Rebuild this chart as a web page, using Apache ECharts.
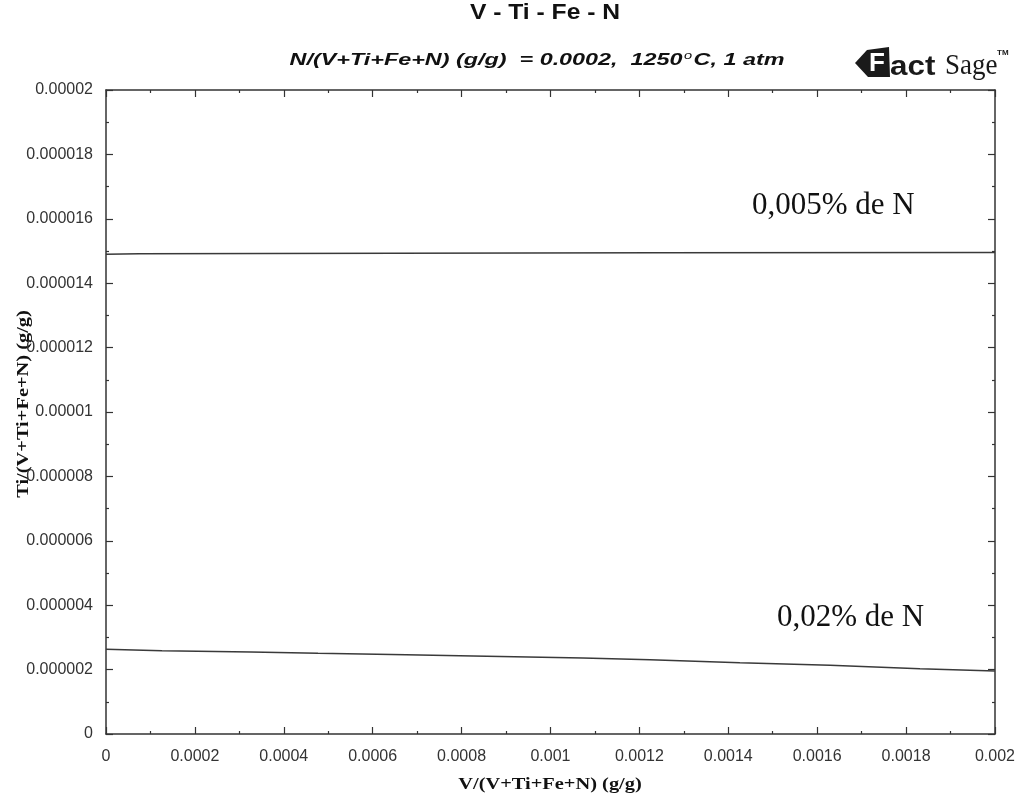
<!DOCTYPE html>
<html>
<head>
<meta charset="utf-8">
<script src="https://cdn.jsdelivr.net/npm/echarts@6/dist/echarts.min.js"></script>
<style>html,body{margin:0;padding:0;background:#fff}#c{width:1018px;height:802px}</style>
</head>
<body>
<div id="c"></div>
<script>
// Data
var xTicks = [0, 0.0002, 0.0004, 0.0006, 0.0008, 0.001, 0.0012, 0.0014, 0.0016, 0.0018, 0.002];
var yTicks = [0, 0.000002, 0.000004, 0.000006, 0.000008, 0.00001, 0.000012, 0.000014, 0.000016, 0.000018, 0.00002];
var lowN_x = [0, 0.000126, 0.000326, 0.000477, 0.000675, 0.000826, 0.001073, 0.001224, 0.001426, 0.001629, 0.001831, 0.002];
var lowN_y = [2.630e-6, 2.587e-6, 2.547e-6, 2.506e-6, 2.463e-6, 2.422e-6, 2.360e-6, 2.307e-6, 2.214e-6, 2.134e-6, 2.028e-6, 1.957e-6];
var highN_x = [0, 0.000075, 0.00123, 0.002];
var highN_y = [1.4898e-5, 1.4916e-5, 1.4947e-5, 1.4950e-5];
var seriesNames = ['0,005% de N', '0,02% de N'];
var titleText = 'V - Ti - Fe - N';
var xName = 'V/(V+Ti+Fe+N) (g/g)';
var yName = 'Ti/(V+Ti+Fe+N) (g/g)';

function pairs(xs, ys) { return xs.map(function (x, i) { return [x, ys[i]]; }); }
function fmt(v) { return Number(Number(v).toPrecision(6)).toString(); }

var chart = echarts.init(document.getElementById('c'), null, { renderer: 'canvas' });
var tickStyle = { color: '#333', width: 1.2 };
function axisLine() { return { show: true, onZero: false, lineStyle: { color: '#333', width: 1.5 } }; }
function xAx(pos, showLabels) {
  return {
    type: 'value', position: pos, min: xTicks[0], max: xTicks[xTicks.length - 1], interval: xTicks[1] - xTicks[0],
    axisLine: axisLine(), axisTick: { show: true, inside: true, length: 7, lineStyle: tickStyle },
    minorTick: { show: true, splitNumber: 2, length: 3, lineStyle: tickStyle },
    splitLine: { show: false },
    axisLabel: { show: showLabels, formatter: fmt, color: '#333', fontFamily: 'Liberation Sans, Arial', fontSize: 16, margin: 15 }
  };
}
function yAx(pos, showLabels) {
  return {
    type: 'value', position: pos, min: yTicks[0], max: yTicks[yTicks.length - 1], interval: yTicks[1] - yTicks[0],
    axisLine: axisLine(), axisTick: { show: true, inside: true, length: 7, lineStyle: tickStyle },
    minorTick: { show: true, splitNumber: 2, length: 3, lineStyle: tickStyle },
    splitLine: { show: false },
    axisLabel: { show: showLabels, formatter: fmt, color: '#333', fontFamily: 'Liberation Sans, Arial', fontSize: 16, margin: 13 }
  };
}

chart.setOption({
  backgroundColor: '#fff',
  animation: false,
  grid: { left: 106, right: 23, top: 90, bottom: 68 },
  xAxis: [xAx('bottom', true), xAx('top', false)],
  yAxis: [yAx('left', true), yAx('right', false)],
  graphic: [
    { type: 'text', x: 545, y: 13, scaleX: 1.12,
      style: { text: titleText, fill: '#111', font: 'bold 22px Liberation Sans, Arial', textAlign: 'center', textVerticalAlign: 'middle' } },
    { type: 'text', x: 537, y: 61, scaleX: 1.46,
      style: { text: '{a|N/(V+Ti+Fe+N) (g/g)  = 0.0002,  1250}{s|o}{a|C, 1 atm}', textAlign: 'center', textVerticalAlign: 'middle',
        rich: {
          a: { fontFamily: 'Liberation Sans, Arial', fontWeight: 'bold', fontStyle: 'italic', fontSize: 16, fill: '#111', color: '#111' },
          s: { fontFamily: 'Liberation Sans, Arial', fontStyle: 'italic', fontSize: 10, fill: '#111', color: '#111', verticalAlign: 'top', padding: [0, 1, 10, 1] }
        } } },
    { type: 'text', x: 550, y: 785, scaleX: 1.2,
      style: { text: xName, fill: '#111', font: 'bold 17px Liberation Serif, Times New Roman', textAlign: 'center', textVerticalAlign: 'middle' } },
    { type: 'text', x: 24, y: 404, scaleX: 1.2, rotation: Math.PI / 2,
      style: { text: yName, fill: '#111', font: 'bold 17px Liberation Serif, Times New Roman', textAlign: 'center', textVerticalAlign: 'middle' } },
    // FactSage logo
    { type: 'polygon', shape: { points: [[855, 63], [867, 50], [889, 47], [890, 77], [868, 77]] }, style: { fill: '#1a1a1a' } },
    { type: 'text', x: 877, y: 64, style: { text: 'F', fill: '#fff', font: 'bold 26px Liberation Sans, Arial', textAlign: 'center', textVerticalAlign: 'middle' } },
    { type: 'text', x: 890, y: 81, scaleX: 1.12, style: { text: 'act', fill: '#1a1a1a', font: 'bold 28px Liberation Sans, Arial', textAlign: 'left', textVerticalAlign: 'bottom' } },
    { type: 'text', x: 945, y: 81, scaleX: 0.9, style: { text: 'Sage', fill: '#1a1a1a', font: '30px Liberation Serif, Times New Roman', textAlign: 'left', textVerticalAlign: 'bottom' } },
    { type: 'text', x: 997, y: 49, style: { text: 'TM', fill: '#1a1a1a', font: 'bold 8px Liberation Sans, Arial', textAlign: 'left', textVerticalAlign: 'top' } },
    // curve labels
    { type: 'text', x: 752, y: 206, style: { text: seriesNames[0], fill: '#111', font: '31px Liberation Serif, Times New Roman', textAlign: 'left', textVerticalAlign: 'middle' } },
    { type: 'text', x: 777, y: 618, style: { text: seriesNames[1], fill: '#111', font: '31px Liberation Serif, Times New Roman', textAlign: 'left', textVerticalAlign: 'middle' } }
  ],
  series: [
    { name: seriesNames[0], type: 'line', data: pairs(highN_x, highN_y), showSymbol: false, symbol: 'none',
      lineStyle: { color: '#3a3a3a', width: 1.5 } },
    { name: seriesNames[1], type: 'line', data: pairs(lowN_x, lowN_y), showSymbol: false, symbol: 'none',
      lineStyle: { color: '#3a3a3a', width: 1.5 } }
  ]
});
</script>
</body>
</html>
